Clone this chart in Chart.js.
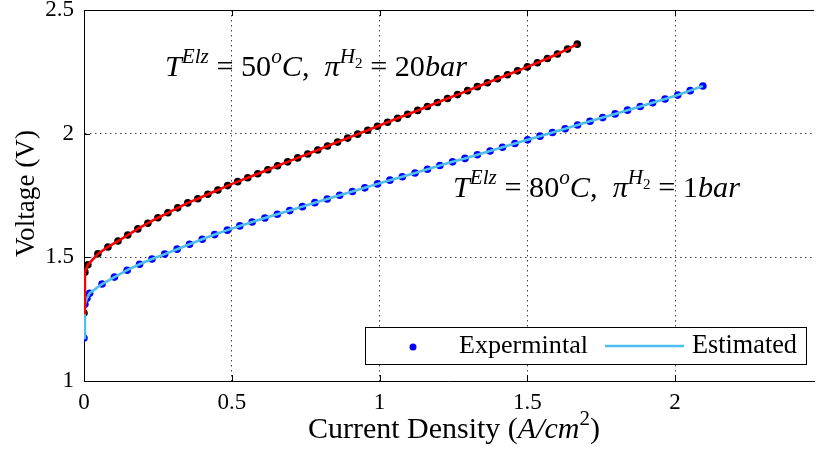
<!DOCTYPE html>
<html>
<head>
<meta charset="utf-8">
<script src="https://cdn.jsdelivr.net/npm/chart.js@4/dist/chart.umd.min.js"></script>
<style>
html,body{margin:0;padding:0;background:#fff;}
#wrap{width:818px;height:459px;}
canvas{display:block;}
</style>
</head>
<body>
<div id="wrap"><canvas id="c" width="818" height="459"></canvas></div>
<script>
// ---- data ----
const redCurrent = [0, 0.003, 0.013, 0.047, 0.081, 0.115, 0.148, 0.182, 0.216, 0.250, 0.284, 0.317, 0.351, 0.385, 0.419, 0.453, 0.486, 0.520, 0.554, 0.588, 0.622, 0.655, 0.689, 0.723, 0.757, 0.791, 0.824, 0.858, 0.892, 0.926, 0.960, 0.993, 1.027, 1.061, 1.095, 1.129, 1.162, 1.196, 1.230, 1.264, 1.298, 1.331, 1.365, 1.399, 1.433, 1.467, 1.500, 1.534, 1.568, 1.602, 1.636, 1.669];
const redVoltage = [1.275, 1.44, 1.47, 1.514, 1.542, 1.566, 1.590, 1.615, 1.638, 1.660, 1.680, 1.700, 1.720, 1.737, 1.755, 1.772, 1.790, 1.806, 1.822, 1.838, 1.854, 1.870, 1.886, 1.902, 1.918, 1.934, 1.950, 1.966, 1.982, 1.998, 2.014, 2.030, 2.046, 2.062, 2.078, 2.094, 2.110, 2.126, 2.142, 2.158, 2.174, 2.190, 2.206, 2.222, 2.238, 2.254, 2.270, 2.287, 2.304, 2.322, 2.342, 2.362];
const blueCurrent = [0, 0.003, 0.010, 0.019, 0.061, 0.103, 0.146, 0.188, 0.230, 0.273, 0.315, 0.357, 0.400, 0.442, 0.485, 0.527, 0.569, 0.612, 0.654, 0.696, 0.739, 0.781, 0.823, 0.865, 0.908, 0.950, 0.993, 1.035, 1.077, 1.120, 1.162, 1.204, 1.247, 1.289, 1.331, 1.374, 1.416, 1.458, 1.501, 1.543, 1.585, 1.628, 1.670, 1.712, 1.755, 1.797, 1.839, 1.882, 1.924, 1.966, 2.009, 2.051, 2.094];
const blueVoltage = [1.174, 1.31, 1.335, 1.355, 1.392, 1.420, 1.448, 1.472, 1.493, 1.513, 1.533, 1.553, 1.573, 1.592, 1.610, 1.627, 1.643, 1.659, 1.674, 1.689, 1.705, 1.721, 1.736, 1.751, 1.766, 1.781, 1.797, 1.812, 1.826, 1.841, 1.856, 1.871, 1.886, 1.900, 1.915, 1.930, 1.945, 1.960, 1.975, 1.990, 2.005, 2.020, 2.035, 2.050, 2.065, 2.080, 2.095, 2.110, 2.125, 2.140, 2.156, 2.174, 2.193];
const xTicks = [0, 0.5, 1, 1.5, 2];
const yTicks = [1, 1.5, 2, 2.5];
const legendLabels = ['Expermintal', 'Estimated'];

const toPts = (xs, ys) => xs.map((x, i) => ({x: x, y: ys[i]}));
const FAM = '"Liberation Serif", "Times New Roman", serif';

function fontFor(r, size) {
  const s = r.l === 'sup' ? size * 0.7 : (r.l === 'ss' ? size * 0.5 : size);
  return (r.i ? 'italic ' : '') + s.toFixed(2) + 'px ' + FAM;
}
function runsWidth(ctx, runs, size) {
  let w = 0;
  for (const r of runs) { ctx.font = fontFor(r, size); w += ctx.measureText(r.t).width; }
  return w;
}
function drawRuns(ctx, runs, x, y, targetW, base) {
  let size = base;
  const w = runsWidth(ctx, runs, size);
  if (targetW) size = size * targetW / w;
  let cx = x;
  ctx.textBaseline = 'alphabetic';
  ctx.textAlign = 'left';
  for (const r of runs) {
    ctx.font = fontFor(r, size);
    const dy = r.l === 'sup' ? -size * 0.42 : (r.l === 'ss' ? -size * 0.28 : 0);
    ctx.fillText(r.t, cx, y + dy);
    cx += ctx.measureText(r.t).width;
  }
  return size;
}

const ann1 = [{t:'T',i:1},{t:'Elz',i:1,l:'sup'},{t:' = 50'},{t:'o',i:1,l:'sup'},{t:'C',i:1},{t:',  '},{t:'\u03C0',i:1},{t:'H',i:1,l:'sup'},{t:'2',l:'ss'},{t:' = 20'},{t:'bar',i:1}];
const ann2 = [{t:'T',i:1},{t:'Elz',i:1,l:'sup'},{t:' = 80'},{t:'o',i:1,l:'sup'},{t:'C',i:1},{t:',  '},{t:'\u03C0',i:1},{t:'H',i:1,l:'sup'},{t:'2',l:'ss'},{t:' = 1'},{t:'bar',i:1}];
const xTitle = [{t:'Current Density ('},{t:'A/cm',i:1},{t:'2',l:'sup'},{t:')'}];
const yTitle = [{t:'Voltage (V)'}];

const decor = {
  id: 'decor',
  afterDatasetsDraw(chart) {
    const ctx = chart.ctx, a = chart.chartArea;
    const xs = chart.scales.x, ys = chart.scales.y;
    ctx.save();
    ctx.strokeStyle = '#000';
    ctx.lineWidth = 1;
    // top border
    ctx.beginPath();
    ctx.moveTo(a.left, a.top + 0.5); ctx.lineTo(a.right, a.top + 0.5);
    ctx.stroke();
    // inward tick marks
    ctx.beginPath();
    for (const v of xTicks) {
      const px = Math.round(xs.getPixelForValue(v)) + 0.5;
      ctx.moveTo(px, a.bottom); ctx.lineTo(px, a.bottom - 6);
      ctx.moveTo(px, a.top); ctx.lineTo(px, a.top + 6);
    }
    for (const v of yTicks) {
      const py = Math.round(ys.getPixelForValue(v)) + 0.5;
      ctx.moveTo(a.left, py); ctx.lineTo(a.left + 6, py);
    }
    ctx.stroke();

    ctx.fillStyle = '#000';
    // annotations
    drawRuns(ctx, ann1, 165, 76, 302, 26);
    drawRuns(ctx, ann2, 453, 197, 287, 26);

    // legend
    ctx.fillStyle = '#fff';
    ctx.fillRect(365, 327, 441, 37);
    ctx.strokeStyle = '#000';
    ctx.lineWidth = 1;
    ctx.strokeRect(365.5, 327.5, 441, 37);
    ctx.fillStyle = '#0000ff';
    ctx.beginPath(); ctx.arc(413, 347, 3.5, 0, Math.PI * 2); ctx.fill();
    ctx.strokeStyle = '#4DBEEE';
    ctx.lineWidth = 2.5;
    ctx.beginPath(); ctx.moveTo(605, 346); ctx.lineTo(684, 346); ctx.stroke();
    ctx.fillStyle = '#000';
    drawRuns(ctx, [{t:legendLabels[0]}], 459, 353, 129, 22);
    drawRuns(ctx, [{t:legendLabels[1]}], 692, 353, 105, 22);

    // axis titles
    drawRuns(ctx, xTitle, 308, 438, 292, 22);
    ctx.save();
    ctx.translate(34, 193.5);
    ctx.rotate(-Math.PI / 2);
    drawRuns(ctx, yTitle, -63.5, 0, 127, 22);
    ctx.restore();
    ctx.restore();
  }
};

const gridColor = (zeroVals) => (c) => (c.tick && zeroVals.includes(c.tick.value)) ? 'rgba(0,0,0,0)' : '#444';

new Chart(document.getElementById('c'), {
  type: 'scatter',
  data: {
    datasets: [
      { label: 'Estimated 50C', data: toPts(redCurrent, redVoltage), showLine: true, borderColor: '#ff0000', borderWidth: 2.6, pointRadius: 0, order: 0 },
      { label: 'Estimated', data: toPts(blueCurrent, blueVoltage), showLine: true, borderColor: '#4DBEEE', borderWidth: 2.6, pointRadius: 0, order: 0 },
      { label: 'Expermintal 50C', data: toPts(redCurrent, redVoltage), showLine: false, backgroundColor: '#000', borderWidth: 0, pointRadius: 3.8, order: 1 },
      { label: 'Expermintal', data: toPts(blueCurrent, blueVoltage), showLine: false, backgroundColor: '#0000ff', borderWidth: 0, pointRadius: 3.8, order: 1 }
    ]
  },
  options: {
    responsive: false,
    animation: false,
    devicePixelRatio: 1,
    layout: { padding: { top: 10, right: 0, left: 0, bottom: 0 } },
    plugins: { legend: { display: false }, tooltip: { enabled: false } },
    scales: {
      x: {
        type: 'linear', min: 0, max: 2.47,
        afterBuildTicks: s => { s.ticks = xTicks.map(v => ({value: v})); },
        afterFit: s => { s.height = 78; s.paddingLeft = 0; s.paddingRight = 0; },
        ticks: { callback: v => String(v), font: { family: FAM, size: 23 }, color: '#000', padding: 8, maxRotation: 0, autoSkip: false },
        grid: { color: gridColor([0]), lineWidth: 1, drawTicks: false },
        border: { display: true, color: '#000', width: 1, dash: [1.5, 3.5] }
      },
      y: {
        type: 'linear', min: 1, max: 2.5,
        afterBuildTicks: s => { s.ticks = yTicks.map(v => ({value: v})); },
        afterFit: s => { s.width = 84; s.paddingTop = 0; s.paddingBottom = 0; },
        ticks: { callback: v => String(v), font: { family: FAM, size: 23 }, color: '#000', padding: 10, autoSkip: false },
        grid: { color: gridColor([1, 2.5]), lineWidth: 1, drawTicks: false },
        border: { display: true, color: '#000', width: 1, dash: [1.5, 3.5] }
      }
    }
  },
  plugins: [decor]
});
</script>
</body>
</html>
